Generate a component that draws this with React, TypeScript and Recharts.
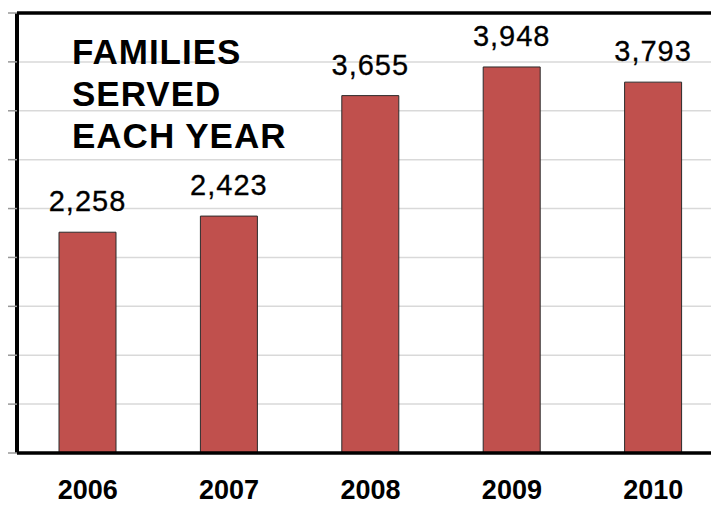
import { BarChart, Bar, XAxis, YAxis, CartesianGrid, ReferenceLine, LabelList } from 'recharts'

const years = ['2006', '2007', '2008', '2009', '2010']
const families = [2258, 2423, 3655, 3948, 3793]
const yTicks = [0, 500, 1000, 1500, 2000, 2500, 3000, 3500, 4000, 4500]
const titleLines = ['FAMILIES', 'SERVED', 'EACH YEAR']

const data = years.map((year, i) => ({ year, families: families[i] }))

const FONT = '"Liberation Sans", Arial, sans-serif'

export default function App() {
  return (
    <div style={{ position: 'absolute', left: 0, top: 0, width: 711, height: 508, overflow: 'hidden', background: '#fff' }}>
      <BarChart width={724} height={508} data={data} margin={{ top: 13, right: 0, bottom: 0, left: 0 }}>
        <CartesianGrid vertical={false} stroke="#d9d9d9" strokeWidth={1.5} />
        <XAxis
          dataKey="year"
          height={55}
          axisLine={{ stroke: '#000', strokeWidth: 3.5 }}
          tickLine={false}
          tick={{ fontSize: 27, fontWeight: 'bold', fill: '#000', fontFamily: FONT }}
          dy={19}
        />
        <YAxis
          width={17}
          domain={[0, 4500]}
          ticks={yTicks}
          tickSize={9}
          tickFormatter={() => ''}
          axisLine={{ stroke: '#000', strokeWidth: 4 }}
          tickLine={{ stroke: '#999', strokeWidth: 1.5 }}
        />
        <ReferenceLine y={4500} stroke="#000" strokeWidth={3.5} />
        <Bar dataKey="families" fill="#C0504D" stroke="#2b2b2b" strokeWidth={1} barSize={57} isAnimationActive={false}>
          <LabelList
            dataKey="families"
            position="top"
            offset={21}
            formatter={(v: any) => Number(v).toLocaleString('en-US')}
            style={{ fontSize: 29, fill: '#000', fontFamily: FONT, letterSpacing: 1, stroke: '#000', strokeWidth: 0.3 }}
          />
        </Bar>
      </BarChart>
      <div
        style={{
          position: 'absolute',
          left: 72,
          top: 31,
          fontFamily: FONT,
          fontWeight: 'bold',
          fontSize: 35,
          lineHeight: '42px',
          letterSpacing: 1,
          color: '#000',
        }}
      >
        {titleLines.map(t => (
          <div key={t}>{t}</div>
        ))}
      </div>
    </div>
  )
}
